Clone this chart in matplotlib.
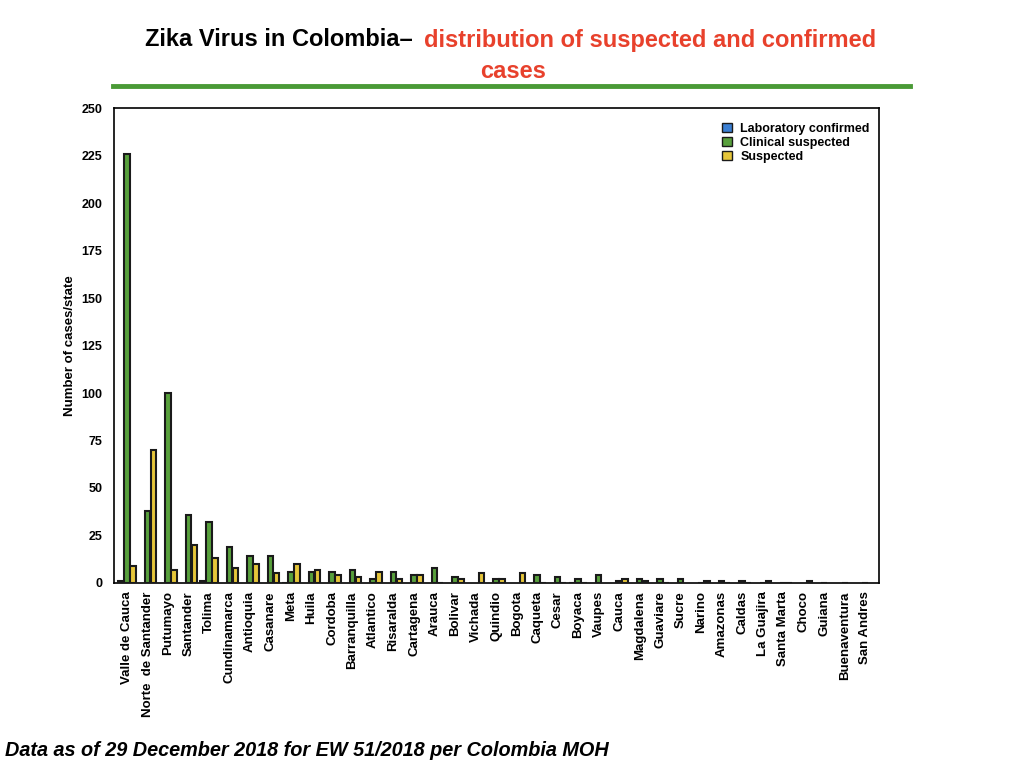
import numpy as np
import matplotlib
matplotlib.use("Agg")
import matplotlib.pyplot as plt
from matplotlib.patches import Patch
from matplotlib.lines import Line2D

plt.rcParams['font.family'] = ['Liberation Sans', 'DejaVu Sans']

states = ["Valle de Cauca", "Norte  de Santander", "Putumayo", "Santander", "Tolima",
          "Cundinamarca", "Antioquia", "Casanare", "Meta", "Huila", "Cordoba",
          "Barranquilla", "Atlantico", "Risaralda", "Cartagena", "Arauca", "Bolivar",
          "Vichada", "Quindio", "Bogota", "Caqueta", "Cesar", "Boyaca", "Vaupes",
          "Cauca", "Magdalena", "Guaviare", "Sucre", "Narino", "Amazonas", "Caldas",
          "La Guajira", "Santa Marta", "Choco", "Guiana", "Buenaventura", "San Andres"]

lab_confirmed = [1, 0, 0, 0, 1, 0, 0, 0, 0.2, 0, 0, 0,
                 0, 0, 0, 0, 0, 0, 0, 0, 0, 0, 0.2, 0,
                 0, 0, 0, 0, 0, 0, 0, 0, 0, 0, 0, 0, 0]
clinical_suspected = [226, 38, 100, 36, 32, 19, 14, 14, 6, 6, 6, 7,
                      2, 6, 4, 8, 3, 0, 2, 0, 4, 3, 2, 4,
                      1, 2, 2, 2, 0.2, 1, 1, 0.2, 0.2, 0, 0.2, 0.2, 0.2]
suspected = [9, 70, 7, 20, 13, 8, 10, 5, 10, 7, 4, 3,
             6, 2, 4, 0.2, 2, 5, 2, 5, 0.2, 0.2, 0.2, 0,
             2, 1, 0.2, 0, 1, 0.2, 0.2, 1, 0.2, 1, 0, 0, 0]

series = [("Laboratory confirmed", lab_confirmed, "#3b7fd3"),
          ("Clinical suspected", clinical_suspected, "#58a03c"),
          ("Suspected", suspected, "#e6c63a")]

fig = plt.figure(figsize=(10.24, 7.68), dpi=100)
ax = fig.add_axes([0.111, 0.241, 0.747, 0.618])

x = np.arange(len(states))
w = 0.27
offsets = [-0.29, 0.0, 0.29]
for (name, vals, col), off in zip(series, offsets):
    vals = np.array(vals, dtype=float)
    keep = vals > 0
    ax.bar(x[keep] + off, vals[keep], width=w, color=col,
           edgecolor="#1a1a1a", linewidth=1.5, zorder=3)

ax.set_xlim(-0.65, len(states) - 0.35)
ax.set_ylim(0, 250)
ax.set_yticks(range(0, 251, 25))
ax.set_xticks(x)
ax.set_xticklabels(states, rotation=90, fontsize=9.5, fontweight="bold")
for lbl in ax.get_yticklabels():
    lbl.set_fontweight("bold")
    lbl.set_fontsize(9)
ax.tick_params(length=0, pad=6)
ax.tick_params(axis="y", pad=8)
for sp in ax.spines.values():
    sp.set_linewidth(1.2)
ax.set_ylabel("Number of cases/state", fontsize=9.5, fontweight="bold", labelpad=4)

handles = [Patch(facecolor=c, edgecolor="#1a1a1a", linewidth=1, label=n) for n, v, c in series]
leg = ax.legend(handles=handles, loc="upper right", bbox_to_anchor=(1.003, 0.993),
                frameon=False, handlelength=0.8, handleheight=0.8, handletextpad=0.7,
                labelspacing=0.15, prop={"weight": "bold", "size": 9})

# title in two colours
fig.text(413 / 1024, 1 - 40 / 768, "Zika Virus in Colombia\u2013", ha="right", va="center",
         fontsize=17, fontweight="bold", color="black")
fig.text(424 / 1024, 1 - 40 / 768, "distribution of suspected and confirmed", ha="left",
         va="center", fontsize=17, fontweight="bold", color="#e8412c")
fig.text(513 / 1024, 1 - 72 / 768, "cases", ha="center", va="center",
         fontsize=17, fontweight="bold", color="#e8412c")
fig.add_artist(Line2D([113 / 1024, 910 / 1024], [1 - 86 / 768, 1 - 86 / 768],
                      color="#4a9a36", linewidth=3.5, transform=fig.transFigure))

fig.text(5 / 1024, 1 - 750 / 768, "Data as of 29 December 2018 for EW 51/2018 per Colombia MOH",
         ha="left", va="center", fontsize=14.3, fontweight="bold", style="italic")

fig.savefig("out.png", dpi=100)
